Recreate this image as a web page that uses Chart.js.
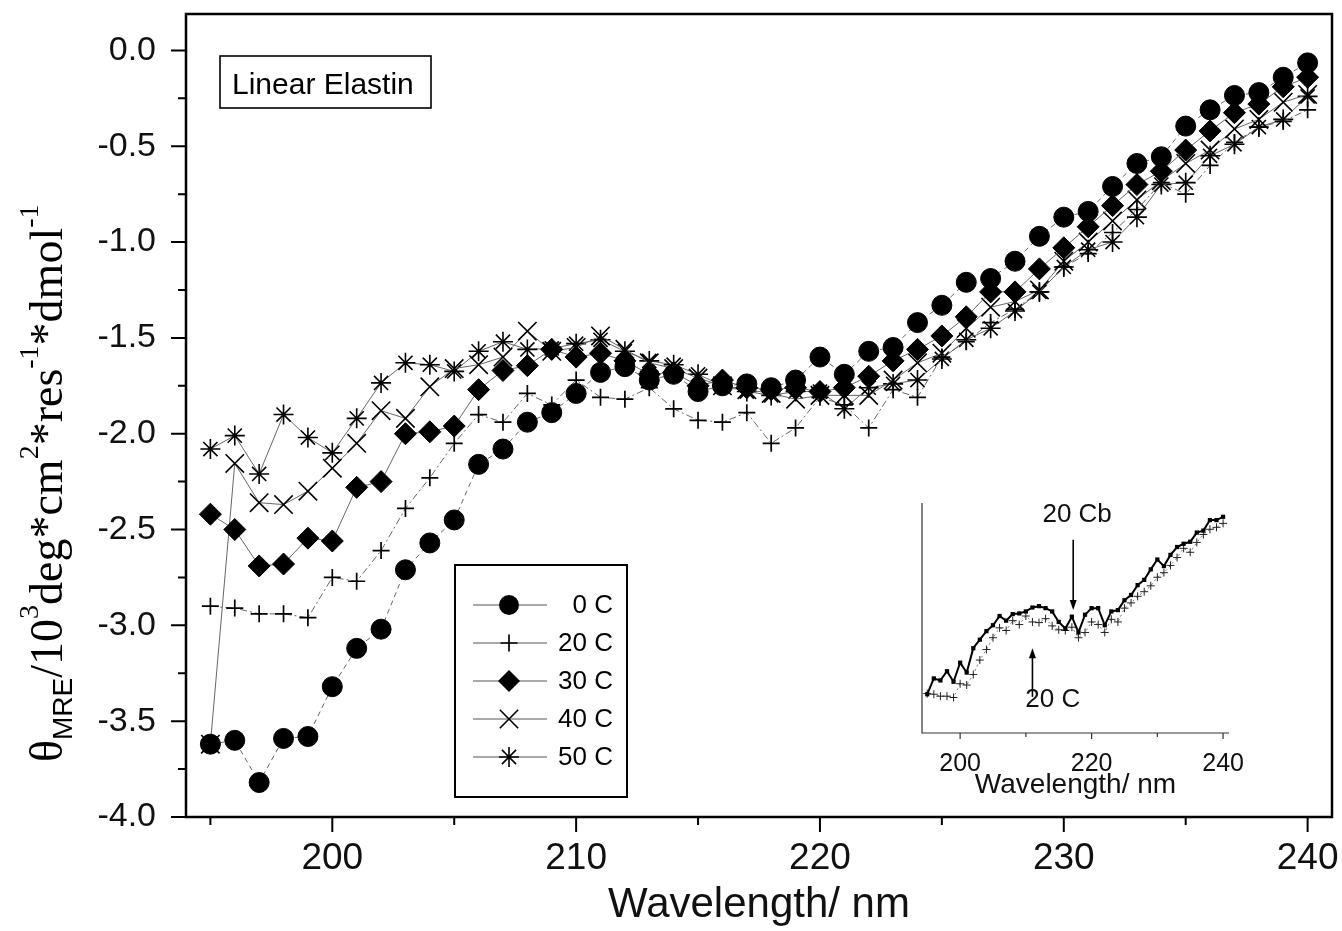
<!DOCTYPE html>
<html>
<head>
<meta charset="utf-8">
<script src="https://cdn.jsdelivr.net/npm/chart.js@4.4.1/dist/chart.umd.min.js"></script>
<style>
  html, body { margin: 0; padding: 0; background: #fff; }
  #wrap { position: relative; width: 1342px; height: 931px; }
  #main { position: absolute; left: 0; top: 0; }
  #inset { position: absolute; left: 880px; top: 470px; }
</style>
</head>
<body>
<div id="wrap">
  <canvas id="main" width="1342" height="931"></canvas>
  <canvas id="inset" width="380" height="335"></canvas>
</div>
<script>
// Dati (lunghezza d'onda in nm, theta in 10^3 deg cm2 res-1 dmol-1)
const wavelength = [195,196,197,198,199,200,201,202,203,204,205,206,207,208,209,210,211,212,213,214,215,216,217,218,219,220,221,222,223,224,225,226,227,228,229,230,231,232,233,234,235,236,237,238,239,240];

const theta0C  = [-3.62,-3.60,-3.82,-3.59,-3.58,-3.32,-3.12,-3.02,-2.71,-2.57,-2.45,-2.16,-2.08,-1.94,-1.89,-1.79,-1.68,-1.65,-1.72,-1.69,-1.78,-1.75,-1.74,-1.76,-1.72,-1.60,-1.69,-1.57,-1.55,-1.42,-1.33,-1.21,-1.19,-1.10,-0.97,-0.87,-0.84,-0.71,-0.59,-0.555,-0.395,-0.31,-0.235,-0.22,-0.14,-0.065];
const theta20C = [-2.90,-2.91,-2.94,-2.94,-2.96,-2.75,-2.77,-2.61,-2.39,-2.23,-2.05,-1.90,-1.94,-1.79,-1.85,-1.72,-1.81,-1.82,-1.76,-1.87,-1.93,-1.94,-1.89,-2.05,-1.97,-1.81,-1.85,-1.97,-1.77,-1.81,-1.60,-1.52,-1.42,-1.35,-1.26,-1.13,-1.06,-0.95,-0.83,-0.69,-0.75,-0.60,-0.48,-0.40,-0.37,-0.31];
const theta30C = [-2.42,-2.50,-2.69,-2.68,-2.545,-2.56,-2.28,-2.25,-2.00,-1.99,-1.96,-1.77,-1.67,-1.645,-1.56,-1.60,-1.58,-1.62,-1.69,-1.68,-1.75,-1.72,-1.76,-1.77,-1.76,-1.78,-1.76,-1.70,-1.62,-1.56,-1.49,-1.39,-1.26,-1.26,-1.14,-1.03,-0.92,-0.81,-0.70,-0.63,-0.52,-0.42,-0.325,-0.28,-0.19,-0.14];
const theta40C = [-3.62,-2.155,-2.36,-2.37,-2.30,-2.18,-2.05,-1.88,-1.92,-1.755,-1.66,-1.64,-1.60,-1.465,-1.57,-1.55,-1.49,-1.56,-1.63,-1.66,-1.71,-1.75,-1.77,-1.79,-1.82,-1.80,-1.80,-1.80,-1.72,-1.63,-1.58,-1.45,-1.34,-1.31,-1.25,-1.10,-1.00,-0.89,-0.78,-0.68,-0.59,-0.52,-0.41,-0.36,-0.27,-0.23];
const theta50C = [-2.08,-2.01,-2.21,-1.90,-2.02,-2.10,-1.92,-1.735,-1.63,-1.64,-1.675,-1.57,-1.52,-1.56,-1.555,-1.53,-1.51,-1.57,-1.62,-1.64,-1.69,-1.75,-1.78,-1.80,-1.78,-1.78,-1.87,-1.76,-1.74,-1.72,-1.61,-1.51,-1.45,-1.36,-1.26,-1.13,-1.04,-1.00,-0.87,-0.70,-0.69,-0.55,-0.49,-0.40,-0.36,-0.24];

// Inserto: 20 Cb confrontato con 20 C
const theta20Cb = [-2.91,-2.67,-2.70,-2.56,-2.72,-2.43,-2.58,-2.21,-2.08,-1.95,-1.86,-1.72,-1.79,-1.69,-1.68,-1.65,-1.59,-1.57,-1.60,-1.65,-1.81,-1.91,-1.73,-1.97,-1.70,-1.60,-1.60,-1.86,-1.65,-1.63,-1.48,-1.40,-1.25,-1.17,-1.01,-0.86,-0.96,-0.79,-0.67,-0.62,-0.59,-0.45,-0.42,-0.26,-0.26,-0.21];

const seriesLabels = ['0 C', '20 C', '30 C', '40 C', '50 C'];
const xTicks = [200, 210, 220, 230, 240];
const xMinorTicks = [195, 205, 215, 225, 235];
const yTicks = [0, -0.5, -1, -1.5, -2, -2.5, -3, -3.5, -4];
const yMinorTicks = [-0.25, -0.75, -1.25, -1.75, -2.25, -2.75, -3.25, -3.75];
const insetXTicks = [200, 220, 240];
const insetXMinorTicks = [210, 230];

const SANS = "'Liberation Sans', Arial, sans-serif";
const SERIF = "'Liberation Serif', 'Times New Roman', serif";
Chart.defaults.font.family = SANS;
Chart.defaults.color = '#111';

function toPoints(values) {
    return wavelength.map((w, i) => ({ x: w, y: values[i] }));
}

// niente padding extra per le etichette: l'area del grafico resta fissa
function noPadding(s) {
    s.paddingTop = 0; s.paddingBottom = 0; s.paddingLeft = 0; s.paddingRight = 0;
}

// Stili dei simboli (come in Origin)
const markerStyles = [
    { pointStyle: 'circle',   radius: 10,   bw: 1,   dash: [5, 4] },
    { pointStyle: 'cross',    radius: 8.5,  bw: 1.7, dash: [7, 3, 2, 3] },
    { pointStyle: 'rectRot',  radius: 11,   bw: 1,   dash: [] },
    { pointStyle: 'crossRot', radius: 13,   bw: 1.6, dash: [] },
    { pointStyle: 'star',     radius: 10,   bw: 1.6, dash: [] }
];
const seriesValues = [theta0C, theta20C, theta30C, theta40C, theta50C];

function drawMarker(ctx, style, x, y, r) {
    const d = r * Math.SQRT1_2;
    ctx.beginPath();
    switch (style) {
        case 'circle':
            ctx.arc(x, y, r, 0, Math.PI * 2); ctx.fill(); break;
        case 'rectRot':
            ctx.moveTo(x, y - r); ctx.lineTo(x + r, y); ctx.lineTo(x, y + r); ctx.lineTo(x - r, y);
            ctx.closePath(); ctx.fill(); break;
        case 'cross':
            ctx.moveTo(x - r, y); ctx.lineTo(x + r, y); ctx.moveTo(x, y - r); ctx.lineTo(x, y + r); ctx.stroke(); break;
        case 'crossRot':
            ctx.moveTo(x - d, y - d); ctx.lineTo(x + d, y + d); ctx.moveTo(x - d, y + d); ctx.lineTo(x + d, y - d); ctx.stroke(); break;
        case 'star':
            ctx.moveTo(x - r, y); ctx.lineTo(x + r, y); ctx.moveTo(x, y - r); ctx.lineTo(x, y + r);
            ctx.moveTo(x - d, y - d); ctx.lineTo(x + d, y + d); ctx.moveTo(x - d, y + d); ctx.lineTo(x + d, y - d); ctx.stroke(); break;
    }
}

// Plugin: sfondo, cornice, tacche, legenda, etichetta asse y
const mainDecor = {
    id: 'mainDecor',
    beforeDraw(chart) {
        const ctx = chart.ctx;
        ctx.save();
        ctx.fillStyle = '#fff';
        ctx.fillRect(0, 0, chart.width, chart.height);
        ctx.restore();
    },
    afterDraw(chart) {
        const ctx = chart.ctx;
        const { left, right, top, bottom } = chart.chartArea;
        const xs = chart.scales.x, ys = chart.scales.y;
        ctx.save();
        ctx.strokeStyle = '#000';
        ctx.fillStyle = '#000';

        // tacche
        ctx.lineWidth = 2;
        ctx.beginPath();
        xTicks.forEach(v => { const px = xs.getPixelForValue(v); ctx.moveTo(px, bottom); ctx.lineTo(px, bottom + 15); });
        xMinorTicks.forEach(v => { const px = xs.getPixelForValue(v); ctx.moveTo(px, bottom); ctx.lineTo(px, bottom + 8); });
        yTicks.forEach(v => { const py = ys.getPixelForValue(v); ctx.moveTo(left, py); ctx.lineTo(left - 15, py); });
        yMinorTicks.forEach(v => { const py = ys.getPixelForValue(v); ctx.moveTo(left, py); ctx.lineTo(left - 8, py); });
        ctx.stroke();

        // cornice
        ctx.lineWidth = 2.5;
        ctx.strokeRect(left, top, right - left, bottom - top);

        // riquadro "Linear Elastin"
        ctx.lineWidth = 1.6;
        ctx.strokeRect(left + 34, top + 42, 211, 52);
        ctx.font = '30px ' + SANS;
        ctx.textAlign = 'left';
        ctx.textBaseline = 'alphabetic';
        ctx.fillText('Linear Elastin', left + 46, top + 80);

        // legenda
        const lx = 455, ly = 565, lw = 172, lh = 232;
        ctx.fillStyle = '#fff';
        ctx.fillRect(lx, ly, lw, lh);
        ctx.lineWidth = 2;
        ctx.strokeStyle = '#000';
        ctx.strokeRect(lx, ly, lw, lh);
        ctx.font = '26px ' + SANS;
        ctx.textAlign = 'right';
        ctx.textBaseline = 'middle';
        seriesLabels.forEach((lab, i) => {
            const ry = 605 + i * 38;
            const st = markerStyles[i];
            ctx.strokeStyle = '#555';
            ctx.lineWidth = 1;
            ctx.setLineDash([]);
            ctx.beginPath(); ctx.moveTo(473, ry); ctx.lineTo(547, ry); ctx.stroke();
            ctx.fillStyle = '#000'; ctx.strokeStyle = '#000'; ctx.lineWidth = st.bw;
            drawMarker(ctx, st.pointStyle, 509, ry, st.radius);
            ctx.fillText(lab, 613, ry + 1);
        });

        // etichetta asse y (ruotata)
        const parts = [
            { t: '\u03B8', f: '46px ' + SERIF, dy: 0 },
            { t: 'MRE', f: '28px ' + SANS, dy: 10 },
            { t: '/10', f: '46px ' + SERIF, dy: 0 },
            { t: '3', f: '28px ' + SERIF, dy: -24 },
            { t: 'deg*cm', f: '46px ' + SERIF, dy: 0 },
            { t: '2', f: '28px ' + SERIF, dy: -24 },
            { t: '*res', f: '46px ' + SERIF, dy: 0 },
            { t: '-1', f: '28px ' + SERIF, dy: -24 },
            { t: '*dmol', f: '46px ' + SERIF, dy: 0 },
            { t: '-1', f: '28px ' + SERIF, dy: -24 }
        ];
        ctx.translate(62, 762);
        ctx.rotate(-Math.PI / 2);
        ctx.textAlign = 'left';
        ctx.textBaseline = 'alphabetic';
        ctx.fillStyle = '#000';
        let cx = 0;
        parts.forEach(p => {
            ctx.font = p.f;
            ctx.fillText(p.t, cx, p.dy);
            cx += ctx.measureText(p.t).width;
        });
        ctx.restore();
    }
};

const mainDatasets = seriesValues.map((vals, i) => {
    const st = markerStyles[i];
    return {
        label: seriesLabels[i],
        data: toPoints(vals),
        borderColor: '#666',
        borderWidth: 1,
        borderDash: st.dash,
        pointStyle: st.pointStyle,
        pointRadius: st.radius,
        pointBorderWidth: st.bw,
        pointBorderColor: '#000',
        pointBackgroundColor: '#000',
        fill: false,
        tension: 0
    };
});

new Chart(document.getElementById('main').getContext('2d'), {
    type: 'line',
    data: { datasets: mainDatasets },
    options: {
        responsive: false,
        animation: false,
        layout: { autoPadding: false, padding: { top: 14, right: 10, left: 0, bottom: 0 } },
        plugins: { legend: { display: false }, tooltip: { enabled: false } },
        scales: {
            x: {
                type: 'linear',
                min: 194,
                max: 241,
                grid: { display: false },
                border: { display: false },
                afterBuildTicks: s => { s.ticks = xTicks.map(v => ({ value: v })); },
                afterFit: s => { s.height = 114; noPadding(s); },
                ticks: { font: { size: 37 }, color: '#111', padding: 12, maxRotation: 0, autoSkip: false },
                title: { display: true, text: 'Wavelength/ nm', font: { size: 42 }, color: '#111', padding: { top: 0, bottom: 0 } }
            },
            y: {
                type: 'linear',
                min: -4,
                max: 0.19,
                grid: { display: false },
                border: { display: false },
                afterBuildTicks: s => { s.ticks = yTicks.map(v => ({ value: v })); },
                afterFit: s => { s.width = 186; noPadding(s); },
                ticks: { font: { size: 34 }, color: '#111', padding: 22, callback: v => v.toFixed(1) }
            }
        }
    },
    plugins: [mainDecor]
});

// Inserto
const insetDecor = {
    id: 'insetDecor',
    afterDraw(chart) {
        const ctx = chart.ctx;
        const { left, right, top, bottom } = chart.chartArea;
        const xs = chart.scales.x, ys = chart.scales.y;
        ctx.save();
        ctx.strokeStyle = '#333';
        ctx.fillStyle = '#111';
        ctx.lineWidth = 1.2;
        ctx.beginPath();
        ctx.moveTo(left, top); ctx.lineTo(left, bottom); ctx.lineTo(right, bottom);
        insetXTicks.forEach(v => { const px = xs.getPixelForValue(v); ctx.moveTo(px, bottom); ctx.lineTo(px, bottom + 6); });
        insetXMinorTicks.forEach(v => { const px = xs.getPixelForValue(v); ctx.moveTo(px, bottom); ctx.lineTo(px, bottom + 4); });
        ctx.stroke();

        // annotazioni con frecce
        function arrow(xv, y1, y2) {
            const px = xs.getPixelForValue(xv);
            const p1 = ys.getPixelForValue(y1), p2 = ys.getPixelForValue(y2);
            const dir = p2 > p1 ? 1 : -1;
            ctx.strokeStyle = '#000';
            ctx.fillStyle = '#000';
            ctx.lineWidth = 1.6;
            ctx.beginPath(); ctx.moveTo(px, p1); ctx.lineTo(px, p2 - dir * 8); ctx.stroke();
            ctx.beginPath(); ctx.moveTo(px, p2); ctx.lineTo(px - 3.5, p2 - dir * 10); ctx.lineTo(px + 3.5, p2 - dir * 10);
            ctx.closePath(); ctx.fill();
        }
        arrow(217.2, -0.56, -1.63);
        arrow(211.0, -2.95, -2.21);
        ctx.font = '26px ' + SANS;
        ctx.textAlign = 'center';
        ctx.textBaseline = 'middle';
        ctx.fillStyle = '#111';
        ctx.fillText('20 Cb', xs.getPixelForValue(217.8), ys.getPixelForValue(-0.18));
        ctx.fillText('20 C', xs.getPixelForValue(214.1), ys.getPixelForValue(-3.0));
        ctx.restore();
    }
};

new Chart(document.getElementById('inset').getContext('2d'), {
    type: 'line',
    data: {
        datasets: [
            {
                label: '20 Cb',
                data: toPoints(theta20Cb),
                borderColor: '#000',
                borderWidth: 2,
                pointStyle: 'rect',
                pointRadius: 3,
                pointBorderWidth: 0,
                pointBackgroundColor: '#000',
                fill: false
            },
            {
                label: '20 C',
                data: toPoints(theta20C),
                borderColor: '#777',
                borderWidth: 1,
                borderDash: [2, 3],
                pointStyle: 'cross',
                pointRadius: 4,
                pointBorderWidth: 1,
                pointBorderColor: '#222',
                fill: false
            }
        ]
    },
    options: {
        responsive: false,
        animation: false,
        layout: { autoPadding: false, padding: { top: 33, right: 31, left: 0, bottom: 0 } },
        plugins: { legend: { display: false }, tooltip: { enabled: false } },
        scales: {
            x: {
                type: 'linear',
                min: 194.2,
                max: 240.9,
                grid: { display: false },
                border: { display: false },
                afterBuildTicks: s => { s.ticks = insetXTicks.map(v => ({ value: v })); },
                afterFit: s => { s.height = 72; noPadding(s); },
                ticks: { font: { size: 25 }, color: '#111', padding: 8, maxRotation: 0, autoSkip: false },
                title: { display: true, text: 'Wavelength/ nm', font: { size: 28 }, color: '#111', padding: { top: 0, bottom: 3 } }
            },
            y: {
                type: 'linear',
                min: -3.5,
                max: 0,
                grid: { display: false },
                border: { display: false },
                ticks: { display: false },
                afterFit: s => { s.width = 42; noPadding(s); }
            }
        }
    },
    plugins: [insetDecor]
});
</script>
</body>
</html>
